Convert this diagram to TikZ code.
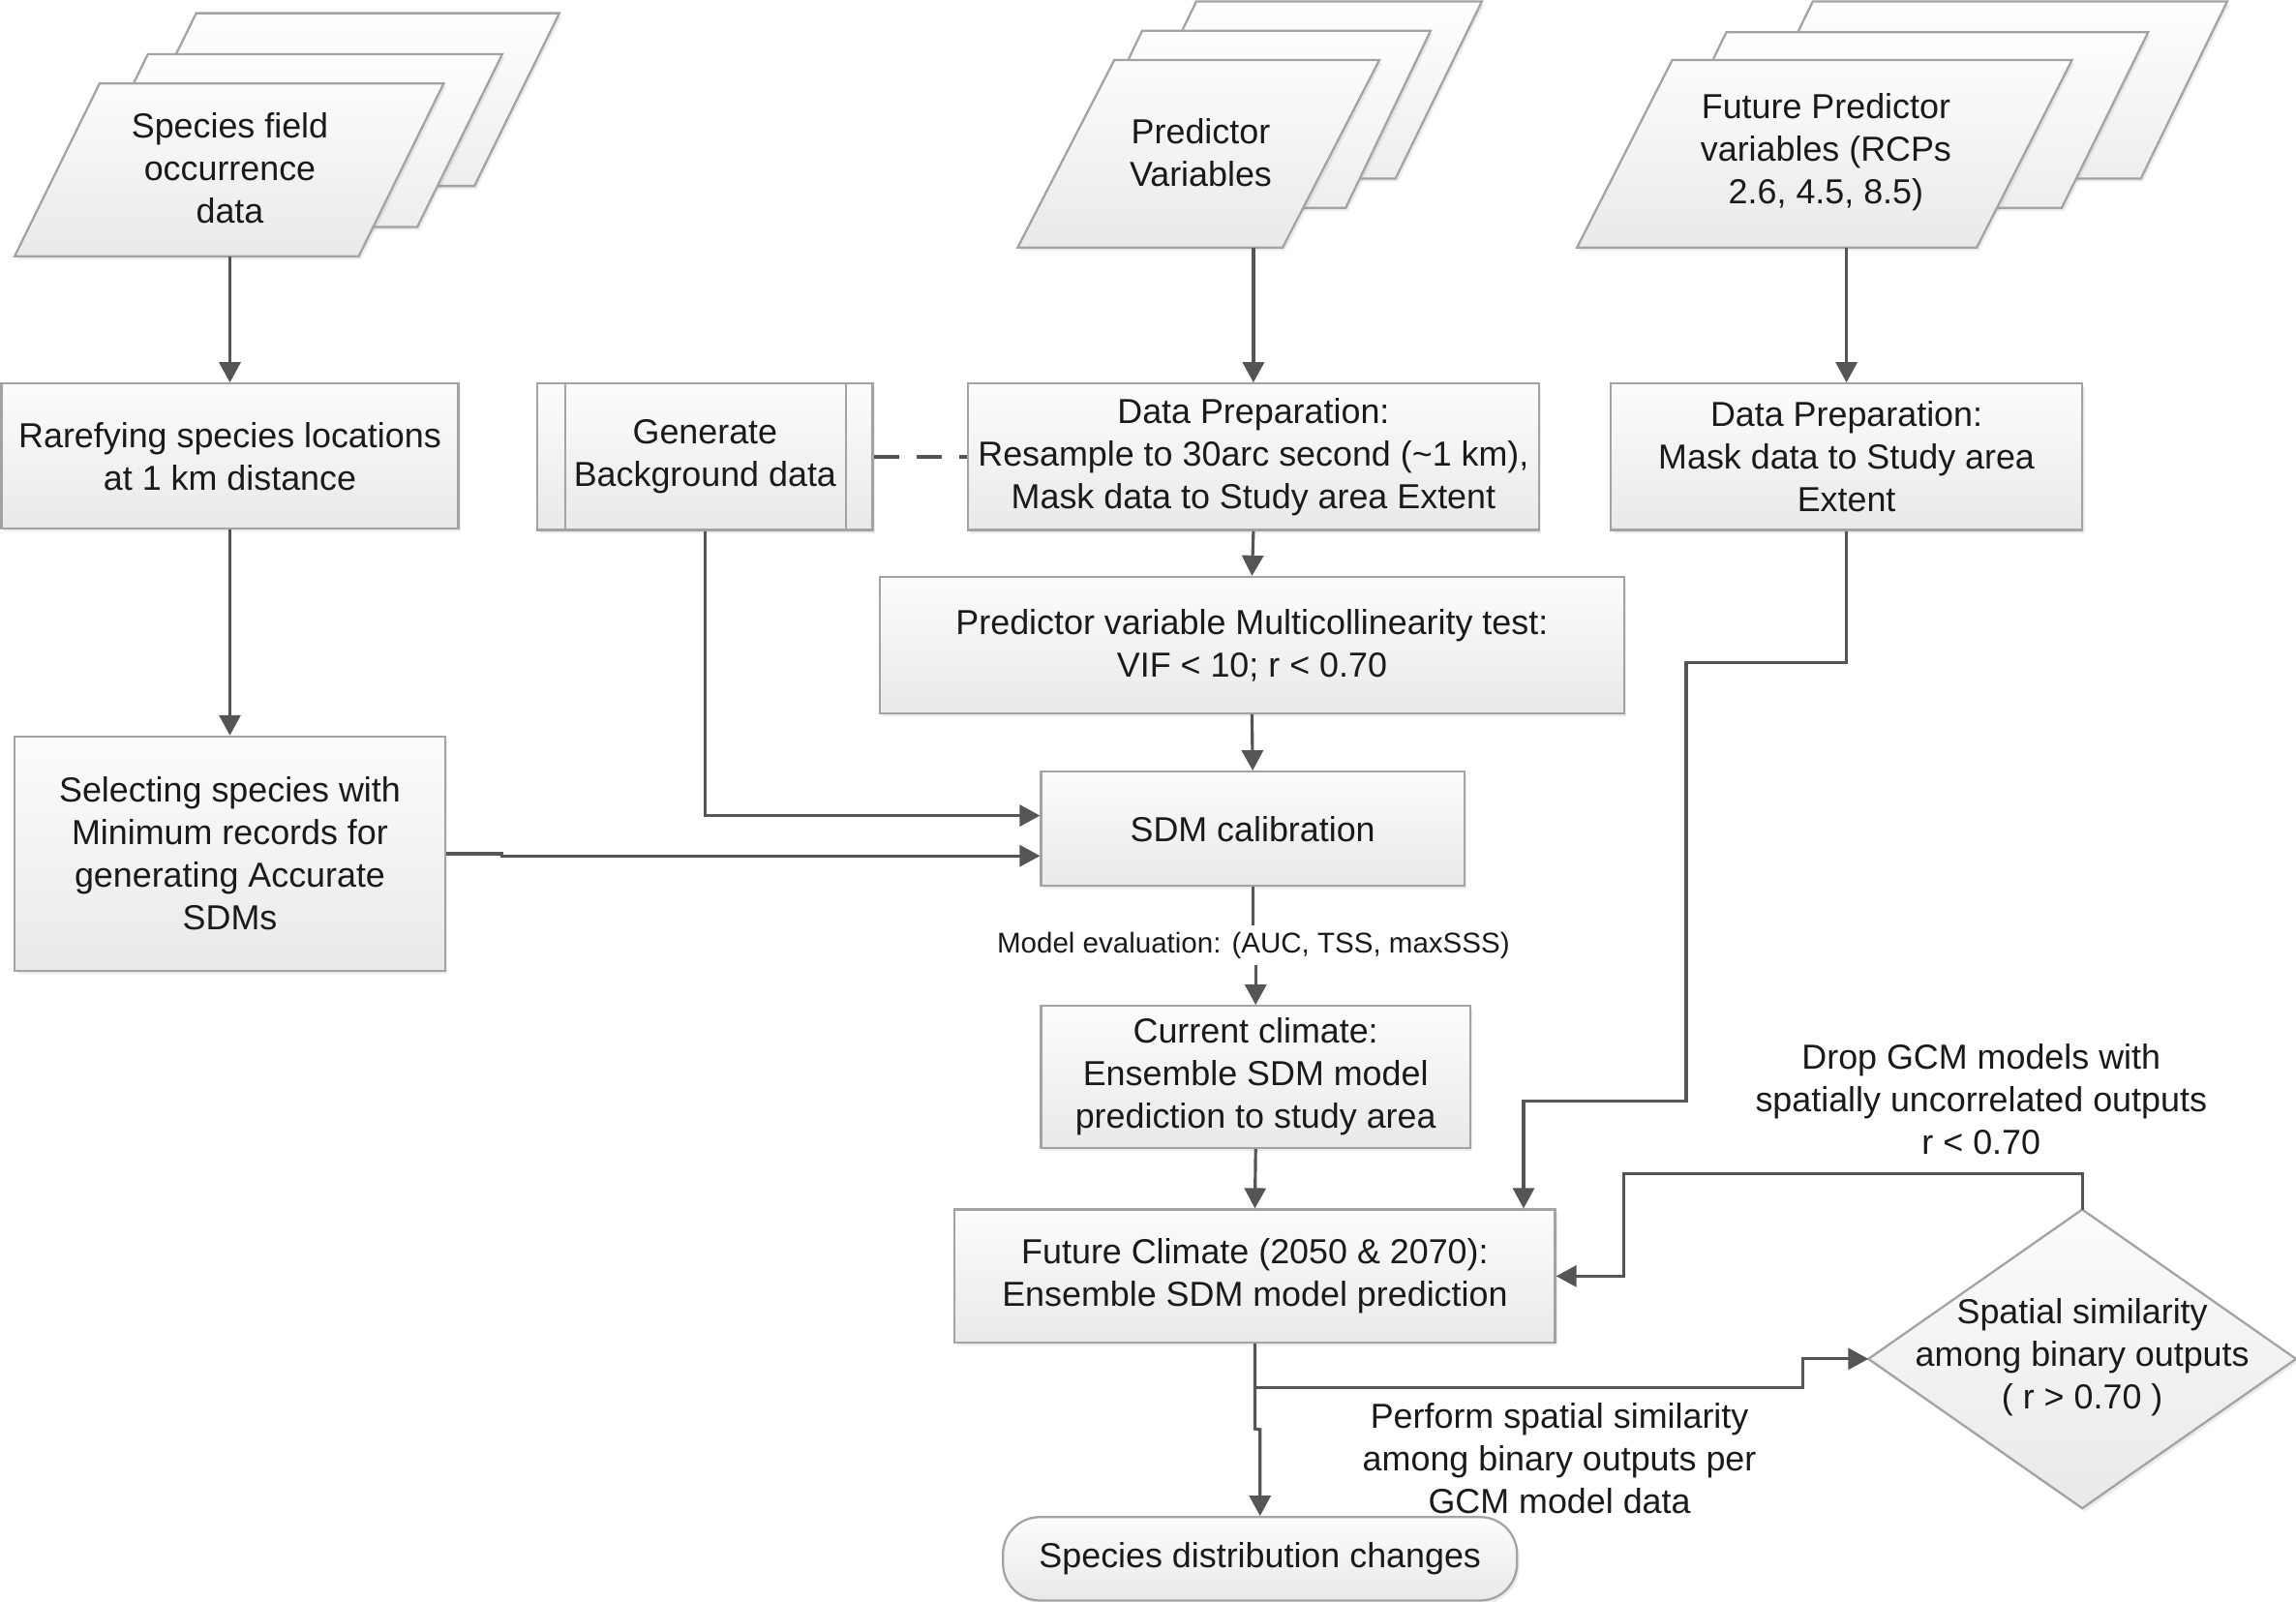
\documentclass[tikz,border=0pt]{standalone}
\usepackage{fontspec}
\setmainfont{Liberation Sans}
\usetikzlibrary{arrows.meta,calc,shadows}
\definecolor{txt}{HTML}{1A1A1A}
\definecolor{edge}{HTML}{A3A3A3}
\definecolor{linec}{HTML}{555555}
\definecolor{ftop}{HTML}{FCFCFC}
\definecolor{fbot}{HTML}{E9E9E9}
\definecolor{btop}{HTML}{FEFEFE}
\definecolor{bbot}{HTML}{EEEEEE}
\newcommand\ux{0.015128cm}
\tikzset{
  basefont/.style={font=\fontsize{10.2}{12.5}\selectfont, text=txt},
  shad/.style={drop shadow={shadow xshift=0.7pt, shadow yshift=-0.9pt, opacity=0.15}},
  box/.style={basefont, draw=edge, line width=0.65pt, top color=ftop, bottom color=fbot,
              align=center, inner sep=0pt, shad},
  docfront/.style={draw=edge, line width=0.65pt, top color=ftop, bottom color=fbot, shad},
  docback/.style={draw=edge, line width=0.65pt, top color=btop, bottom color=bbot, shad},
  lbl/.style={basefont, align=center, inner sep=1pt},
  conn/.style={draw=linec, line width=0.9pt},
  arr/.style={conn, -{Triangle[length=2.1mm,width=2.2mm]}},
}
% box node: name, x1, y1, x2, y2, text
\newcommand\bx[7][]{\node[box,#1, minimum width={(#5-#3)*\ux}, minimum height={(#6-#4)*\ux}] (#2) at ({(#3+#5)/2},{(#4+#6)/2}) {#7};}
% parallelogram: style, top-left x, top y, width, height, skew
\newcommand\docp[6]{\path[#1] (#2,#3) -- ++(#4,0) -- ++({-#6},#5) -- ++({-#4},0) -- cycle;}
\begin{document}
\begin{tikzpicture}[x=0.015128cm, y=-0.015128cm]
\useasboundingbox (0,0) rectangle (1568,1094);
\fill[white] (0,0) rectangle (1568,1094);

% ---- stacked document shapes ----
\docp{docback}{134}{9}{248}{118}{58}
\docp{docback}{101}{37}{242}{118}{58}
\docp{docfront}{68}{57}{235}{118}{58}
\node[lbl] (sp) at (157,115) {Species field\\occurrence\\data};
\coordinate (spb) at (157,175);

\docp{docback}{817}{1}{195}{121}{59}
\docp{docback}{780}{21}{197}{121}{58}
\docp{docfront}{761}{41}{181}{128}{66}
\node[lbl] (pv) at (820,104.5) {Predictor\\Variables};
\coordinate (pvb) at (856,169);

\docp{docback}{1238}{1}{283}{121}{59}
\docp{docback}{1179}{22}{288}{120}{59}
\docp{docfront}{1142}{41}{273}{128}{65}
\node[lbl] (fp) at (1247,104) {Future Predictor\\variables (RCPs\\2.6, 4.5, 8.5)};
\coordinate (fpb) at (1261,169);

% ---- process boxes ----
\bx{rare}{1}{262}{313}{361}{Rarefying species locations\\at 1 km distance}
\bx{gen}{367}{262}{596}{362}{Generate\\Background data}
\draw[draw=edge, line width=0.65pt] ($(gen.north west)+(20,0)$) -- ($(gen.south west)+(20,0)$)
      ($(gen.north east)+(-19,0)$) -- ($(gen.south east)+(-19,0)$);
\bx{dp1}{661}{262}{1051}{362}{Data Preparation:\\Resample to 30arc second (\textasciitilde1 km),\\Mask data to Study area Extent}
\bx{dp2}{1100}{262}{1422}{362}{Data Preparation:\\Mask data to Study area\\Extent}
\bx{mc}{601}{394}{1109}{487}{Predictor variable Multicollinearity test:\\VIF < 10; r < 0.70}
\bx{sel}{10}{503}{304}{663}{Selecting species with\\Minimum records for\\generating Accurate\\SDMs}
\bx{sdm}{711}{527}{1000}{605}{SDM calibration}
\bx{cur}{711}{687}{1004}{784}{Current climate:\\Ensemble SDM model\\prediction to study area}
\bx{fut}{652}{826}{1062}{917}{Future Climate (2050 \& 2070):\\Ensemble SDM model prediction}
\bx[rounded corners=0.38cm]{spchg}{685}{1036}{1036}{1093}{Species distribution changes}

% ---- decision diamond ----
\path[docfront] (1422,826) -- (1568,928) -- (1422,1030) -- (1276,928) -- cycle;
\node[lbl] (dia) at (1422,927) {Spatial similarity\\among binary outputs\\( r > 0.70 )};
\coordinate (diatop) at (1422,826);
\coordinate (dialeft) at (1276,928);

% ---- labels ----
\node[lbl, font=\fontsize{8.4}{10}\selectfont, inner sep=1.6pt] (mev) at (856,645.5) {Model evaluation: (AUC, TSS, maxSSS)};
\node[lbl] (drop) at (1353,751) {Drop GCM models with\\spatially uncorrelated outputs\\r < 0.70};
\node[lbl] (perf) at (1065,996) {Perform spatial similarity\\among binary outputs per\\GCM model data};

% ---- connectors ----
\draw[arr] (spb) -- (rare.north);
\draw[arr] (rare.south) -- (sel.north);
\draw[arr] (pvb) -- (dp1.north);
\draw[arr] (fpb) -- (dp2.north);
\draw[conn, dash pattern=on 7.5pt off 5pt] (gen.east) -- (dp1.west);
\draw[arr] (dp1.south) -- (mc.north);
\draw[arr] (mc.south) -- (sdm.north);
\coordinate (sdmin1) at ($(sdm.west)+(0,-9)$);
\coordinate (sdmin2) at ($(sdm.west)+(0,18.5)$);
\draw[arr] (gen.south) |- (sdmin1);
\draw[arr] (sel.east) -- ++(38,0) -- ++(0,1.5) -- (sdmin2);
\draw[conn] (sdm.south) -- (mev.north -| sdm.south);
\draw[arr] (mev.south -| cur.north) -- (cur.north);
\draw[arr] (cur.south) -- (fut.north);
\coordinate (futin) at ($(fut.north)+(183.5,0)$);
\draw[arr] (dp2.south) |- (1151.5,452.7) -- (1151.5,752) -| (futin);
\draw[arr] (diatop) |- (1109,801.5) |- (fut.east);
\draw[arr] (fut.south) -- ++(0,30) -| ($(dialeft)+(-45,0)$) -- (dialeft);
\draw[arr] (fut.south) -- ++(0,58) -- ($(spchg.north)+(0,-59)$) -- (spchg.north);
\end{tikzpicture}
\end{document}
